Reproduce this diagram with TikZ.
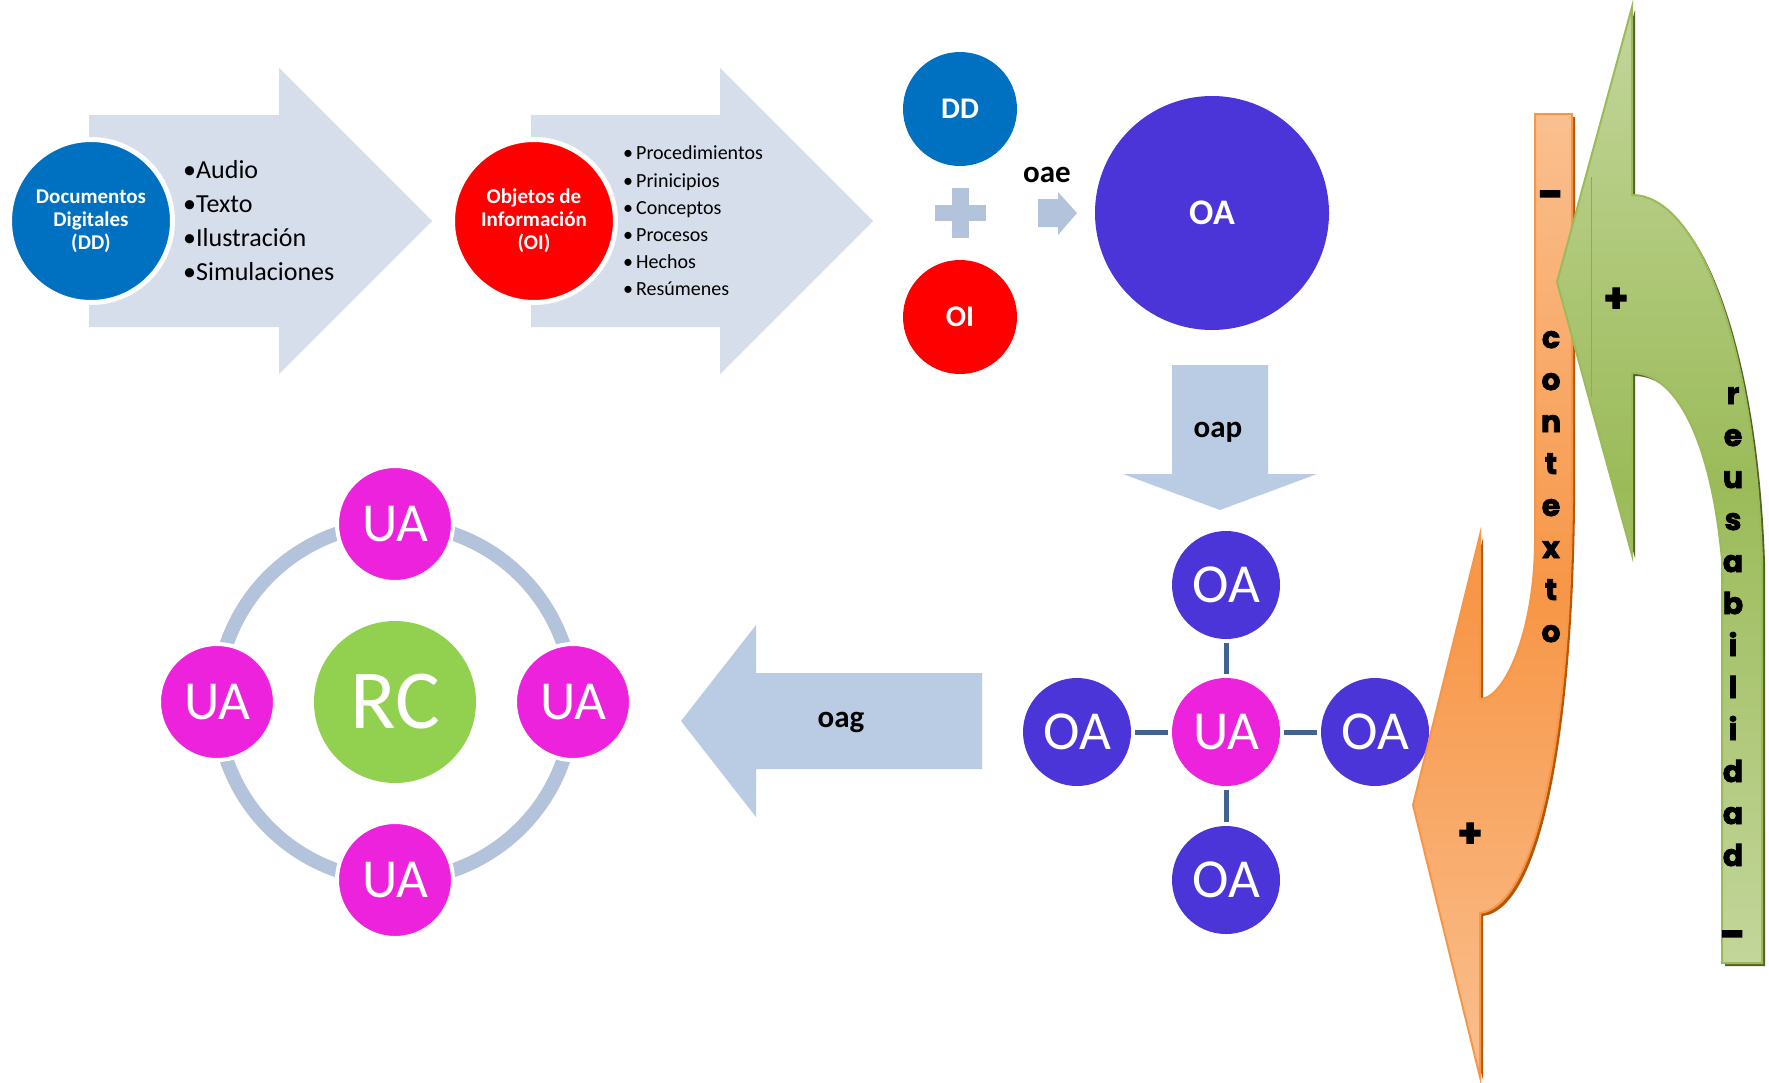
\documentclass[tikz,border=0pt]{standalone}
\usepackage{fontspec}
\setmainfont{Carlito}
\newfontfamily\heavyfont{Poppins}[FakeBold=2.5]
\newcommand{\pxfont}[2]{\fontsize{#1}{#2}\selectfont}
\definecolor{ddblue}{HTML}{0070C0}
\definecolor{oired}{HTML}{FF0000}
\definecolor{oapurple}{HTML}{4C35D8}
\definecolor{uamag}{HTML}{EC22DC}
\definecolor{rcgreen}{HTML}{92D050}
\definecolor{bigarrow}{HTML}{D6DDEB}
\definecolor{midarrow}{HTML}{B9CCE4}
\definecolor{smallarrow}{HTML}{B4C3DC}
\definecolor{connblue}{HTML}{41648F}
\definecolor{orlight}{HTML}{FAC090}
\definecolor{ormid}{HTML}{F79646}
\definecolor{orshadow}{HTML}{B65708}
\definecolor{grlight}{HTML}{C3D69B}
\definecolor{grmid}{HTML}{9BBB59}
\definecolor{grshadow}{HTML}{4F6228}
\tikzset{
  bigcirc/.style={circle, inner sep=0pt, minimum size=163pt, draw=white, line width=5pt, text=white, align=center, font=\bfseries\pxfont{21}{23}},
  smallcirc/.style={circle, inner sep=0pt, minimum size=114pt, text=white, font=\bfseries\pxfont{30}{30}},
  starcirc/.style={circle, inner sep=0pt, minimum size=108pt, text=white, font=\pxfont{55}{55}},
  ringua/.style={circle, inner sep=0pt, minimum size=116pt, fill=uamag, draw=white, line width=4pt, text=white, font=\pxfont{55}{55}},
  conn/.style={draw=connblue, line width=5pt, shorten <=4pt, shorten >=4pt},
  oplabel/.style={font=\bfseries\pxfont{31}{31}, inner sep=0pt},
  vlet/.style={font=\heavyfont\bfseries\pxfont{30}{30}, anchor=base, inner sep=0pt},
  sign/.style={font=\heavyfont\bfseries\pxfont{40}{40}, inner sep=0pt},
  dashsign/.style={font=\heavyfont\bfseries\pxfont{44}{44}, inner sep=0pt},
}
\begin{document}
\begin{tikzpicture}[x=1pt,y=-1pt]
\useasboundingbox[fill=white] (0,0) rectangle (1769,1082);

% ---- top chevron arrows
\fill[bigarrow] (89,115) -- (279,115) -- (279,68) -- (432,221) -- (279,374) -- (279,327) -- (89,327) -- cycle;
\fill[bigarrow] (531,115) -- (720,115) -- (720,68) -- (873,221) -- (720,374) -- (720,327) -- (531,327) -- cycle;

\node[bigcirc, fill=ddblue] (dd1) at (91,221) {Documentos\\Digitales\\(DD)};
\node[bigcirc, fill=oired] (oi1) at (534,221) {Objetos de\\Información\\(OI)};

\node[anchor=west, align=left, inner sep=0pt, font=\pxfont{26}{34}] (list1) at (183,221)
  {•Audio\\•Texto\\•Ilustración\\•Simulaciones};
\node[anchor=west, align=left, inner sep=0pt, font=\pxfont{20}{27.2}] (list2) at (623,221)
  {•\hspace{3pt}Procedimientos\\•\hspace{3pt}Prinicipios\\•\hspace{3pt}Conceptos\\•\hspace{3pt}Procesos\\•\hspace{3pt}Hechos\\•\hspace{3pt}Resúmenes};

% ---- DD + OI -> OA
\node[smallcirc, fill=ddblue] (dd2) at (960,109) {DD};
\node[smallcirc, fill=oired] (oi2) at (960,317) {OI};
\fill[smallarrow] (952,188) rectangle (969,238);
\fill[smallarrow] (935,205) rectangle (986,221);
\node[oplabel] (oae) at (1047,175) {oae};
\fill[smallarrow] (1038,199) -- (1058,199) -- (1058,192) -- (1077,213) -- (1058,235) -- (1058,227) -- (1038,227) -- cycle;
\node[circle, inner sep=0pt, minimum size=234pt, fill=oapurple, text=white, font=\bfseries\pxfont{36}{36}] (oabig) at (1212,213) {OA};

% ---- oap arrow
\fill[midarrow] (1172,365) -- (1268,365) -- (1268,474) -- (1317,474) -- (1220,510) -- (1123,474) -- (1172,474) -- cycle;
\node[oplabel] (oap) at (1218,432) {oap};

% ---- star of OA around UA
\node[starcirc, fill=uamag] (ua) at (1226,732) {UA};
\node[starcirc, fill=oapurple] (oat) at (1226,585) {OA};
\node[starcirc, fill=oapurple] (oal) at (1077,732) {OA};
\node[starcirc, fill=oapurple] (oar) at (1375,732) {OA};
\node[starcirc, fill=oapurple] (oab) at (1226,880) {OA};
\draw[conn] (ua) -- (oat);
\draw[conn] (ua) -- (oal);
\draw[conn] (ua) -- (oar);
\draw[conn] (ua) -- (oab);

% ---- oag arrow
\fill[midarrow] (982,673) -- (756,673) -- (756,625) -- (681,721) -- (756,817) -- (756,769) -- (982,769) -- cycle;
\node[oplabel] (oag) at (841,722) {oag};

% ---- RC cluster
\node[circle, inner sep=0pt, minimum size=162pt, fill=rcgreen, text=white, font=\pxfont{84}{84}] (rc) at (395,702) {RC};
\draw[smallarrow, line width=14pt] (rc.center) circle[radius=178pt];
\node[ringua] (ua1) at (395,524) {UA};
\node[ringua] (ua2) at (217,702) {UA};
\node[ringua] (ua3) at (573,702) {UA};
\node[ringua] (ua4) at (395,880) {UA};

% ---- orange "contexto" curved arrow
\begin{scope}[shift={(3,3)}]
\fill[orshadow] (1535,114) -- (1572,114) -- (1572,500) .. controls (1570,720) and (1540,905) .. (1480,913)
  -- (1480,1077) -- (1413,805) -- (1480,535) -- (1480,699) .. controls (1505,699) and (1535,630) .. (1535,540) -- cycle;
\end{scope}
\path[draw=ormid, line width=2pt, top color=orlight, bottom color=orlight, middle color=ormid]
  (1535,114) -- (1572,114) -- (1572,500) .. controls (1570,720) and (1540,905) .. (1480,913)
  -- (1480,1077) -- (1413,805) -- (1480,535) -- (1480,699) .. controls (1505,699) and (1535,630) .. (1535,540) -- cycle;

% ---- green "reusabilidad" curved arrow
\begin{scope}[shift={(3,3)}]
\fill[grshadow] (1632,7) -- (1632,195) .. controls (1700,195) and (1755,350) .. (1762,560) -- (1762,963)
  -- (1722,963) -- (1722,560) .. controls (1712,450) and (1680,373) .. (1632,373) -- (1632,555) -- (1557,282) -- cycle;
\end{scope}
\path[draw=grmid, line width=2pt, top color=grlight, bottom color=grlight, middle color=grmid]
  (1632,7) -- (1632,195) .. controls (1700,195) and (1755,350) .. (1762,560) -- (1762,963)
  -- (1722,963) -- (1722,560) .. controls (1712,450) and (1680,373) .. (1632,373) -- (1632,555) -- (1557,282) -- cycle;
\draw[grshadow!60, line width=0.8pt] (1591,177) -- (1591,397);

% ---- labels on the curved arrows
\node[dashsign] (ctxminus) at (1551,200) {-};
\foreach \l [count=\i from 0] in {c,o,n,t,e,x,t,o}
  \node[vlet] (ctx\i) at (1551,{348+42*\i}) {\l};
\node[sign] (ctxplus) at (1470,835) {+};
\node[sign] (reuplus) at (1616,300) {+};
\foreach \l [count=\i from 0] in {r,e,u,s,a,b,i,l,i,d,a,d}
  \node[vlet] (reu\i) at (1733,{404+42*\i}) {\l};
\node[dashsign] (reuminus) at (1733,940) {-};
\end{tikzpicture}
\end{document}
